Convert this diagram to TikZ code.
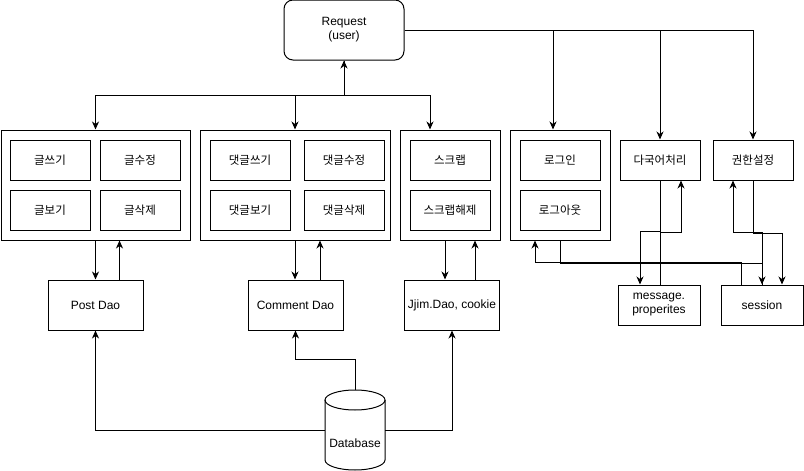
\documentclass[tikz,border=0pt]{standalone}
\usepackage{fontspec}
\setmainfont{Liberation Sans}
\newfontfamily\kr{Noto Sans CJK KR}
\usetikzlibrary{arrows.meta}
\tikzset{
  box/.style={draw, line width=1pt, inner sep=0pt, minimum width=80pt, minimum height=40pt, font=\fontsize{12}{14}\selectfont},
  kbox/.style={box, font=\kr\fontsize{11.5}{14}\selectfont},
  group/.style={draw, line width=1pt, minimum height=110pt},
  dao/.style={box, minimum width=95pt, minimum height=50pt},
  link/.style={line width=1pt, -{Stealth[length=8pt, width=7pt, inset=2.5pt]}}
}
\begin{document}
\begin{tikzpicture}[x=1pt, y=-1pt]
\useasboundingbox (0,0) rectangle (804,471);

% request
\node[box, rounded corners=9pt, minimum width=120pt, minimum height=60pt, align=center] (req) at (344,30) {Request\\(user)};

% groups
\node[group, minimum width=189pt] (grpPost) at (95.5,185) {};
\node[group, minimum width=190pt] (grpComment) at (295,185) {};
\node[group, minimum width=100pt] (grpScrap) at (450,185) {};
\node[group, minimum width=100pt] (grpLogin) at (560,185) {};

% boxes inside the groups
\node[kbox] (write) at (50,160) {글쓰기};
\node[kbox] (edit) at (140,160) {글수정};
\node[kbox] (read) at (50,210) {글보기};
\node[kbox] (delete) at (140,210) {글삭제};
\node[kbox] (cWrite) at (250,160) {댓글쓰기};
\node[kbox] (cEdit) at (344,160) {댓글수정};
\node[kbox] (cRead) at (250,210) {댓글보기};
\node[kbox] (cDelete) at (344,210) {댓글삭제};
\node[kbox] (scrap) at (450,160) {스크랩};
\node[kbox] (unscrap) at (450,210) {스크랩해제};
\node[kbox] (login) at (560,160) {로그인};
\node[kbox] (logout) at (560,210) {로그아웃};

% single boxes
\node[kbox] (lang) at (660,160) {다국어처리};
\node[kbox] (auth) at (753,160) {권한설정};
\node[box, minimum width=82pt, align=center] (msg) at (659,305) {message.\\properites};
\node[box, minimum width=82pt] (session) at (762,305) {session};

% dao
\node[dao] (postDao) at (95.5,305) {Post Dao};
\node[dao] (commentDao) at (295.5,305) {Comment Dao};
\node[dao] (jjimDao) at (452,305) {Jjim.Dao, cookie};

% database (cylinder drawn by hand)
\node[minimum width=60pt, minimum height=80pt, inner sep=0pt] (db) at (355,430) {};
\draw[line width=1pt] (325,400) -- (325,460) arc[start angle=180, end angle=0, x radius=30, y radius=10] -- (385,400);
\draw[line width=1pt] (355,400) ellipse[x radius=30, y radius=10];
\node[font=\fontsize{12}{14}\selectfont] (dbText) at (355,443) {Database};

% request to the groups
\coordinate (junc) at (344,95);
\draw[link] (junc) -- (req.south);
\draw[link] (req.south) -- (junc) -| (grpPost.north);
\draw[link] (junc) -| (grpComment.north);
\draw[link] (junc) -| ([xshift=-20pt]grpScrap.north);
\draw[link] (req.east) -| ([xshift=-7pt]grpLogin.north);
\draw[link] (req.east) -| (lang.north);
\draw[link] (req.east) -| (auth.north);

% groups and dao
\draw[link] (grpPost.south) -- (postDao.north);
\draw[link] ([xshift=24pt]postDao.north) -- ([xshift=24pt]grpPost.south);
\draw[link] (grpComment.south) -- ([xshift=-0.5pt]commentDao.north);
\draw[link] ([xshift=24.5pt]commentDao.north) -- ([xshift=25pt]grpComment.south);
\draw[link] ([xshift=-5pt]grpScrap.south) -- ([xshift=-7pt]jjimDao.north);
\draw[link] ([xshift=23pt]jjimDao.north) -- ([xshift=25pt]grpScrap.south);

% database to dao
\draw[link] (db.north) -- ++(0,-30) -| (commentDao.south);
\draw[link] (db.west) -| (postDao.south);
\draw[link] (db.east) -| (jjimDao.south);

% login, session, message
\draw[link] (grpLogin.south) -- ++(0,23) -| (session.north);
\draw[link] ([xshift=-21pt]session.north) -- ++(0,-22) -| ([xshift=-25pt]grpLogin.south);
\draw[link] (auth.south) -- ++(0,53) -| ([xshift=20pt]session.north);
\draw[link] (session.north) -- ++(0,-52) -| ([xshift=-20pt]auth.south);
\draw[link] (lang.south) -- ++(0,51) -| ([xshift=-19pt]msg.north);
\draw[link] ([xshift=1pt]msg.north) -- ++(0,-52) -| ([xshift=21pt]lang.south);
\end{tikzpicture}
\end{document}
